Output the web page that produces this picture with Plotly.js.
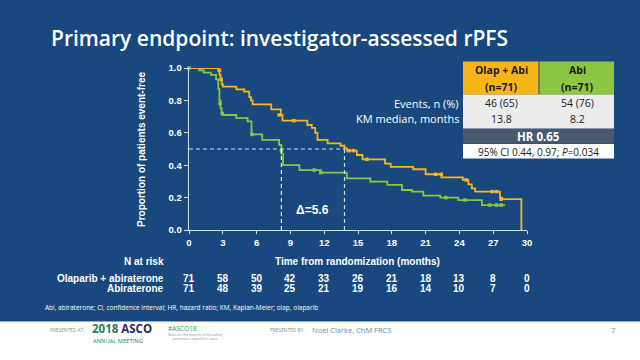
<!DOCTYPE html>
<html><head><meta charset="utf-8">
<script src="https://cdn.plot.ly/plotly-3.0.1.min.js"></script>
<style>html,body{margin:0;padding:0;background:#18487D;}#c{width:640px;height:360px;}</style>
</head><body><div id="c"></div>
<script>
// ---- data ----
const olapT = [0, 2.6, 2.7, 2.8, 2.9, 3.0, 4.2, 4.9, 5.35, 5.5, 5.65, 7.3, 8.15, 8.3, 10.5, 10.9, 11.2, 11.4, 12.3, 13.45, 13.8, 14.0, 14.9, 15.4, 17.4, 17.9, 19.9, 21.0, 22.4, 24.3, 24.8, 25.1, 25.4, 27.6, 27.8, 29.5];
const olapS = [1.0, 0.986, 0.958, 0.93, 0.90, 0.885, 0.868, 0.854, 0.82, 0.80, 0.776, 0.745, 0.71, 0.675, 0.648, 0.63, 0.60, 0.556, 0.535, 0.52, 0.505, 0.49, 0.463, 0.436, 0.41, 0.39, 0.375, 0.344, 0.325, 0.309, 0.282, 0.257, 0.237, 0.20, 0.19, 0.0];
const abiT = [0, 0.9, 1.3, 1.95, 2.4, 2.6, 2.7, 2.8, 2.9, 3.0, 4.2, 5.2, 5.55, 6.5, 8.0, 8.2, 8.35, 9.8, 11.7, 14.0, 16.1, 17.6, 18.9, 19.8, 20.8, 22.3, 23.9, 26.0, 28.05];
const abiS = [1.0, 0.986, 0.971, 0.957, 0.93, 0.87, 0.80, 0.75, 0.72, 0.71, 0.69, 0.67, 0.59, 0.556, 0.525, 0.47, 0.40, 0.37, 0.354, 0.319, 0.298, 0.278, 0.247, 0.237, 0.212, 0.20, 0.185, 0.154, 0.154];
const olapCensT = [2.7, 2.85, 8.0, 9.3, 14.2, 14.6, 15.8, 21.9, 22.4, 24.6, 26.9, 27.3, 27.7];
const olapCensS = [0.986, 0.93, 0.71, 0.675, 0.49, 0.49, 0.436, 0.344, 0.344, 0.309, 0.237, 0.237, 0.19];
const abiCensT = [0, 2.75, 2.95, 5.6, 8.2, 11.1, 11.7, 22.8, 24.5, 26.7, 27.3, 27.7];
const abiCensS = [1.0, 0.78, 0.72, 0.59, 0.49, 0.37, 0.354, 0.20, 0.185, 0.154, 0.154, 0.154];
const medOlap = 13.8, medAbi = 8.2;
const xTicks = [0, 3, 6, 9, 12, 15, 18, 21, 24, 27, 30];
const riskOlap = [71, 58, 50, 42, 33, 26, 21, 18, 13, 8, 0];
const riskAbi = [71, 48, 39, 25, 21, 19, 16, 14, 10, 7, 0];
const yTicks = [0, 0.2, 0.4, 0.6, 0.8, 1.0];
const armNames = ["Olap + Abi", "Abi"];
const armN = ["(n=71)", "(n=71)"];
const events = ["46 (65)", "54 (76)"];
const medians = ["13.8", "8.2"];
const hrText = "HR 0.65";
const ciText = "95% CI 0.44, 0.97; <i>P</i>=0.034";

// ---- layout helpers (pixel -> paper) ----
const L = 189, T = 68, W = 338, H = 162;
const PX = p => (p - L) / W;
const PY = p => (T + H - p) / H;

const ORANGE = '#F7B520', GREEN = '#8CC540', BG = '#18487D';
const NARROW = '"Liberation Sans Narrow", "Liberation Sans", Arial, sans-serif';
const SANS = '"Open Sans", "Noto Sans", sans-serif';

const traces = [
  {x: abiT, y: abiS, mode: 'lines', line: {shape: 'hv', color: GREEN, width: 1.8}, cliponaxis: false, hoverinfo: 'skip'},
  {x: olapT, y: olapS, mode: 'lines', line: {shape: 'hv', color: ORANGE, width: 1.8}, cliponaxis: false, hoverinfo: 'skip'},
  {x: abiCensT, y: abiCensS, mode: 'markers', marker: {symbol: 'square', size: 3.5, color: GREEN}, cliponaxis: false},
  {x: olapCensT, y: olapCensS, mode: 'markers', marker: {symbol: 'square', size: 3.5, color: ORANGE}, cliponaxis: false},
  {x: [0, medOlap], y: [0.5, 0.5], mode: 'lines', line: {color: '#C9D9EE', width: 1.2, dash: '4px,3px'}},
  {x: [medAbi, medAbi], y: [0, 0.5], mode: 'lines', line: {color: '#E6EEF8', width: 1.2, dash: '4px,3px'}},
  {x: [medOlap, medOlap], y: [0, 0.5], mode: 'lines', line: {color: '#C9D9EE', width: 1.2, dash: '4px,3px'}}
];

const ann = [];
const shapes = [];
// Title
ann.push({xref: 'paper', yref: 'paper', x: PX(49), y: PY(38), xanchor: 'left', yanchor: 'middle', showarrow: false,
  text: 'Primary endpoint: investigator-assessed rPFS', font: {family: SANS, size: 21, color: '#FFFFFF', weight: 600}});
// y axis title
ann.push({xref: 'paper', yref: 'paper', x: PX(141), y: PY(150), xanchor: 'center', yanchor: 'middle', showarrow: false, textangle: -90,
  text: '<b>Proportion of patients event-free</b>', font: {family: NARROW, size: 10, color: '#FFFFFF'}});
// x axis title
ann.push({xref: 'paper', yref: 'paper', x: PX(357), y: PY(261), xanchor: 'center', yanchor: 'middle', showarrow: false,
  text: '<b>Time from randomization (months)</b>', font: {family: NARROW, size: 10, color: '#FFFFFF'}});
// N at risk
ann.push({xref: 'paper', yref: 'paper', x: PX(166), y: PY(261), xanchor: 'right', yanchor: 'middle', showarrow: false,
  text: '<b>N at risk</b>', font: {family: NARROW, size: 10, color: '#FFFFFF'}});
ann.push({xref: 'paper', yref: 'paper', x: PX(166), y: PY(278), xanchor: 'right', yanchor: 'middle', showarrow: false,
  text: '<b>Olaparib + abiraterone</b>', font: {family: NARROW, size: 10, color: '#FFFFFF'}});
ann.push({xref: 'paper', yref: 'paper', x: PX(166), y: PY(288.5), xanchor: 'right', yanchor: 'middle', showarrow: false,
  text: '<b>Abiraterone</b>', font: {family: NARROW, size: 10, color: '#FFFFFF'}});
xTicks.forEach((t, i) => {
  ann.push({xref: 'x', yref: 'paper', x: t, y: PY(278), xanchor: 'center', yanchor: 'middle', showarrow: false,
    text: '<b>' + riskOlap[i] + '</b>', font: {family: NARROW, size: 10, color: '#FFFFFF'}});
  ann.push({xref: 'x', yref: 'paper', x: t, y: PY(288.5), xanchor: 'center', yanchor: 'middle', showarrow: false,
    text: '<b>' + riskAbi[i] + '</b>', font: {family: NARROW, size: 10, color: '#FFFFFF'}});
});
// Delta
ann.push({xref: 'x', yref: 'paper', x: (medAbi + medOlap) / 2, y: PY(210), xanchor: 'center', yanchor: 'middle', showarrow: false,
  text: '<b>Δ=5.6</b>', font: {family: '"Liberation Sans", Arial, sans-serif', size: 12, color: '#FFFFFF'}});
// Footnote
ann.push({xref: 'paper', yref: 'paper', x: PX(43), y: PY(307.5), xanchor: 'left', yanchor: 'middle', showarrow: false,
  text: 'Abi, abiraterone; CI, confidence interval; HR, hazard ratio; KM, Kaplan-Meier; olap, olaparib', font: {family: SANS, size: 6.5, color: '#FFFFFF'}});

// Summary table
const rect = (x0, y0, x1, y1, fill) => shapes.push({type: 'rect', xref: 'paper', yref: 'paper', x0: PX(x0), x1: PX(x1), y0: PY(y1), y1: PY(y0), fillcolor: fill, line: {width: 0}, layer: 'above'});
rect(463, 61.5, 538.5, 94.5, '#F8B519');
rect(539.5, 61.5, 614, 94.5, '#8DC641');
rect(463, 94.5, 614, 128.5, '#EDEDED');
rect(463, 129, 614, 143.5, '#4B596C');
rect(463, 144, 614, 158.5, '#FFFFFF');
const cellX = [501, 577];
const TF = {family: SANS, size: 10.5, color: '#1A1A1A'};
armNames.forEach((n, i) => {
  ann.push({xref: 'paper', yref: 'paper', x: PX(cellX[i]), y: PY(70), xanchor: 'center', yanchor: 'middle', showarrow: false, text: '<b>' + n + '</b>', font: TF});
  ann.push({xref: 'paper', yref: 'paper', x: PX(cellX[i]), y: PY(86.5), xanchor: 'center', yanchor: 'middle', showarrow: false, text: '<b>' + armN[i] + '</b>', font: TF});
  ann.push({xref: 'paper', yref: 'paper', x: PX(cellX[i]), y: PY(103), xanchor: 'center', yanchor: 'middle', showarrow: false, text: events[i], font: TF});
  ann.push({xref: 'paper', yref: 'paper', x: PX(cellX[i]), y: PY(118.5), xanchor: 'center', yanchor: 'middle', showarrow: false, text: medians[i], font: TF});
});
ann.push({xref: 'paper', yref: 'paper', x: PX(461), y: PY(103), xanchor: 'right', yanchor: 'middle', showarrow: false, text: 'Events, n (%)', font: {family: SANS, size: 11, color: '#FFFFFF'}});
ann.push({xref: 'paper', yref: 'paper', x: PX(461), y: PY(118.5), xanchor: 'right', yanchor: 'middle', showarrow: false, text: 'KM median, months', font: {family: SANS, size: 11, color: '#FFFFFF'}});
ann.push({xref: 'paper', yref: 'paper', x: PX(538.5), y: PY(136), xanchor: 'center', yanchor: 'middle', showarrow: false, text: '<b>' + hrText + '</b>', font: {family: SANS, size: 11.5, color: '#FFFFFF'}});
ann.push({xref: 'paper', yref: 'paper', x: PX(538.5), y: PY(151.5), xanchor: 'center', yanchor: 'middle', showarrow: false, text: ciText, font: {family: SANS, size: 10, color: '#1A1A1A'}});

// Footer
shapes.push({type: 'rect', xref: 'paper', yref: 'paper', x0: PX(0), x1: PX(640), y0: PY(360), y1: PY(321.5), fillcolor: '#FFFFFF', line: {width: 0}, layer: 'below'});
shapes.push({type: 'line', xref: 'paper', yref: 'paper', x0: PX(0), x1: PX(640), y0: PY(321.5), y1: PY(321.5), line: {color: '#C9A24A', width: 1.2}});
const FG = '#8A8F99';
ann.push({xref: 'paper', yref: 'paper', x: PX(48), y: PY(330), xanchor: 'left', yanchor: 'middle', showarrow: false, text: 'PRESENTED AT:', font: {family: SANS, size: 4.8, color: FG}});
ann.push({xref: 'paper', yref: 'paper', x: PX(90), y: PY(328.5), xanchor: 'left', yanchor: 'middle', showarrow: false,
  text: '<b><span style="color:#1E7F62">2018</span> <span style="color:#1D2F5C">ASCO</span></b>', font: {family: SANS, size: 11.5, color: '#1D2F5C'}});
ann.push({xref: 'paper', yref: 'paper', x: PX(91), y: PY(341), xanchor: 'left', yanchor: 'middle', showarrow: false, text: 'ANNUAL MEETING', font: {family: SANS, size: 5.8, color: '#1E7F62'}});
ann.push({xref: 'paper', yref: 'paper', x: PX(166), y: PY(328), xanchor: 'left', yanchor: 'middle', showarrow: false, text: '#ASCO18', font: {family: SANS, size: 6.5, color: '#2E8FA0'}});
ann.push({xref: 'paper', yref: 'paper', x: PX(166), y: PY(337), xanchor: 'left', yanchor: 'middle', showarrow: false,
  text: 'Slides are the property of the author,<br>permission required for reuse.', font: {family: SANS, size: 3.2, color: FG}});
ann.push({xref: 'paper', yref: 'paper', x: PX(268), y: PY(330), xanchor: 'left', yanchor: 'middle', showarrow: false, text: 'PRESENTED BY:', font: {family: SANS, size: 4.8, color: FG}});
ann.push({xref: 'paper', yref: 'paper', x: PX(310), y: PY(329.5), xanchor: 'left', yanchor: 'middle', showarrow: false, text: 'Noel Clarke, ChM FRCS', font: {family: SANS, size: 7.5, color: '#5A8FB8'}});
ann.push({xref: 'paper', yref: 'paper', x: PX(613), y: PY(329.5), xanchor: 'center', yanchor: 'middle', showarrow: false, text: '7', font: {family: SANS, size: 8, color: FG}});

const axFont = {family: NARROW, size: 9.5, color: '#FFFFFF', weight: 'bold'};
const layout = {
  width: 640, height: 360,
  margin: {l: L, r: 640 - L - W, t: T, b: 360 - T - H, pad: 0},
  paper_bgcolor: BG, plot_bgcolor: BG,
  showlegend: false,
  xaxis: {range: [0, 30], tickvals: xTicks, ticktext: xTicks.map(v => '<b>' + v + '</b>'), showgrid: false, zeroline: false,
    showline: true, linecolor: '#D8E2EE', linewidth: 1.3, ticks: 'outside', ticklen: 3, tickcolor: '#D8E2EE', tickfont: axFont, fixedrange: true},
  yaxis: {range: [0, 1], tickvals: yTicks, ticktext: yTicks.map(v => '<b>' + v.toFixed(1) + '</b>'), showgrid: false, zeroline: false,
    showline: true, linecolor: '#D8E2EE', linewidth: 1.3, ticks: 'outside', ticklen: 4, tickcolor: '#D8E2EE', tickfont: axFont, fixedrange: true},
  annotations: ann,
  shapes: shapes
};
Plotly.newPlot('c', traces, layout, {staticPlot: true, displayModeBar: false});
</script>
</body></html>
